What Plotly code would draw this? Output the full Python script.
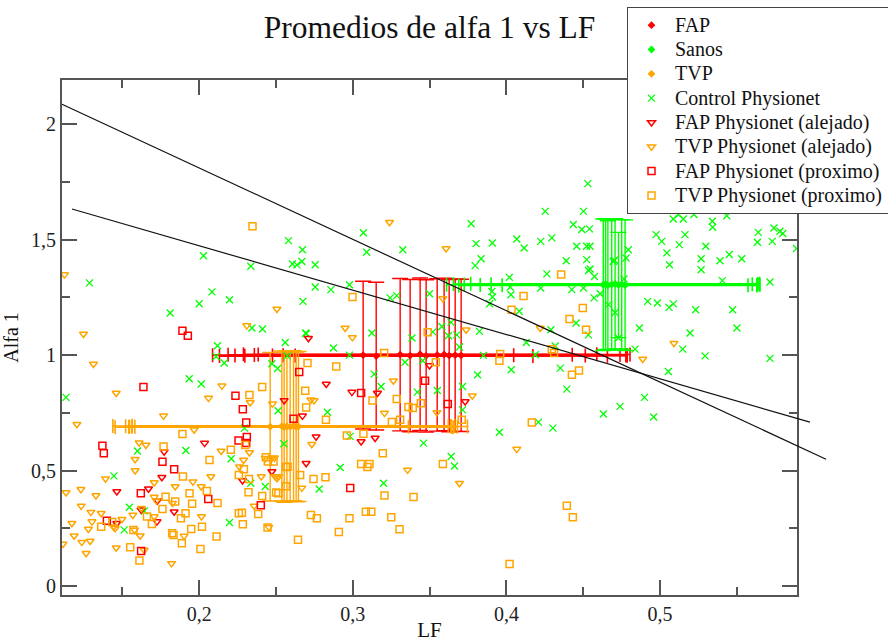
import plotly.graph_objects as go

# ---------------- data ----------------
# group means (several estimates per group) with std errors
fap_lf = [0.3067, 0.3152, 0.3308, 0.3373, 0.3438, 0.3477, 0.3549, 0.3594, 0.3627, 0.3666, 0.3705]
fap_a1 = [1.000, 0.996, 1.002, 0.998, 1.004, 0.997, 1.001, 1.003, 0.998, 1.000, 0.999]
fap_lf_err = [0.098, 0.102, 0.112, 0.114, 0.115, 0.118, 0.119, 0.121, 0.115, 0.112, 0.108]
fap_a1_err = [0.32, 0.32, 0.33, 0.33, 0.33, 0.33, 0.33, 0.33, 0.33, 0.33, 0.33]

sanos_lf = [0.4630, 0.4645, 0.4660, 0.4685, 0.4707, 0.4729, 0.4750, 0.4772]
sanos_a1 = [1.305, 1.308, 1.302, 1.306, 1.309, 1.304, 1.307, 1.303]
sanos_lf_err = [0.102, 0.099, 0.097, 0.096, 0.094, 0.090, 0.085, 0.080]
sanos_a1_err = [0.285, 0.283, 0.280, 0.284, 0.282, 0.228, 0.280, 0.283]

tvp_lf = [0.2462, 0.2538, 0.2553, 0.2571, 0.2592, 0.2614, 0.2631, 0.2646]
tvp_a1 = [0.690, 0.693, 0.688, 0.692, 0.689, 0.694, 0.690, 0.691]
tvp_lf_err = [0.090, 0.110, 0.110, 0.105, 0.105, 0.105, 0.105, 0.110]
tvp_a1_err = [0.322, 0.325, 0.325, 0.325, 0.323, 0.325, 0.324, 0.325]

control_lf = [0.2581, 0.2028, 0.2336, 0.2607, 0.2636, 0.1286, 0.2083, 0.2000, 0.2197, 0.1811,
              0.2343, 0.2412, 0.2560, 0.2119, 0.2110, 0.2163, 0.2473, 0.2510, 0.1935, 0.2573,
              0.1133, 0.2013, 0.2514, 0.1598, 0.1913, 0.2208, 0.1445, 0.1546, 0.1642, 0.1512,
              0.2197, 0.2336, 0.2430, 0.2551, 0.2874, 0.2696, 0.2835, 0.2295, 0.2781,
              0.4529, 0.4252, 0.4501, 0.3770, 0.3069, 0.4435, 0.4490, 0.4540, 0.4067, 0.4115,
              0.4223, 0.4295, 0.3802, 0.3908, 0.4457, 0.4522, 0.4544, 0.2672, 0.3090, 0.3325,
              0.2755, 0.2668, 0.3835, 0.3796, 0.4389, 0.4522, 0.4534, 0.4573, 0.4263, 0.4019,
              0.2755, 0.2857, 0.2978, 0.3243, 0.3286, 0.3499, 0.3905, 0.3909, 0.4024, 0.4029,
              0.4223, 0.4425, 0.4501, 0.4570, 0.3890, 0.4083, 0.4453, 0.4533, 0.2675, 0.2694,
              0.3124, 0.3521, 0.3579, 0.3640, 0.3622, 0.3677, 0.3824, 0.4289, 0.4129, 0.3385,
              0.3694, 0.4317, 0.2978, 0.3850, 0.4187, 0.3340, 0.3455, 0.4031, 0.3812, 0.4350,
              0.4393, 0.3139, 0.3714, 0.3184, 0.3420, 0.3550, 0.3714, 0.4208, 0.4302, 0.2982,
              0.3954, 0.3460, 0.3640, 0.3662, 0.2918, 0.3200,
              0.5086, 0.5151, 0.5119, 0.5220, 0.5340, 0.5342, 0.5434, 0.5639, 0.5633, 0.5741,
              0.5780, 0.5798, 0.4974, 0.5010, 0.5162, 0.5125, 0.5730, 0.5888, 0.5297, 0.5044,
              0.5061, 0.5267, 0.5267, 0.5390, 0.5450, 0.5531, 0.4793, 0.4778, 0.4702, 0.4544,
              0.5715, 0.5405, 0.4610, 0.4664, 0.4707, 0.4919, 0.4982, 0.5058, 0.5086, 0.5231,
              0.5472, 0.4865, 0.5195, 0.5500, 0.5147, 0.5293, 0.5715, 0.4837, 0.4631, 0.4739,
              0.4898, 0.4958, 0.5054, 0.4696, 0.4765, 0.4729]
control_a1 = [1.496, 1.431, 1.385, 1.395, 1.391, 1.313, 1.274, 1.223, 1.240, 1.183,
              1.118, 1.113, 1.055, 1.041, 0.994, 0.966, 0.963, 0.942, 0.898, 0.997,
              0.817, 0.875, 0.759, 0.585, 0.587, 0.551, 0.477, 0.341, 0.325, 0.243,
              0.275, 0.445, 0.431, 0.616, 1.031, 1.093, 0.753, 0.684, 0.420,
              1.743, 1.623, 1.623, 1.569, 1.530, 1.566, 1.544, 1.547, 1.503, 1.464,
              1.493, 1.508, 1.483, 1.486, 1.472, 1.472, 1.472, 1.457, 1.446, 1.457,
              1.392, 1.406, 1.418, 1.388, 1.409, 1.414, 1.367, 1.341, 1.352, 1.337,
              1.295, 1.284, 1.305, 1.248, 1.258, 1.266, 1.276, 1.252, 1.295, 1.262,
              1.291, 1.284, 1.291, 1.248, 1.223, 1.190, 1.139, 1.088, 1.233, 1.096,
              1.096, 1.101, 1.124, 1.142, 1.084, 1.088, 1.103, 1.110, 1.055, 1.074,
              1.035, 1.040, 1.000, 0.999, 1.002, 0.969, 0.976, 0.937, 0.915, 0.944,
              0.853, 0.918, 0.864, 0.864, 0.840, 0.847, 0.763, 0.710, 0.684, 0.648,
              0.666, 0.619, 0.561, 0.520, 0.513, 0.445,
              1.590, 1.590, 1.609, 1.609, 1.580, 1.554, 1.604, 1.532, 1.489, 1.551,
              1.537, 1.527, 1.522, 1.493, 1.522, 1.479, 1.493, 1.462, 1.472, 1.443,
              1.392, 1.418, 1.370, 1.409, 1.436, 1.418, 1.457, 1.421, 1.411, 1.373,
              1.317, 1.323, 1.266, 1.219, 1.185, 1.233, 1.226, 1.207, 1.222, 1.197,
              1.197, 1.118, 1.096, 1.118, 1.026, 0.997, 0.986, 1.026, 0.745, 0.778,
              0.817, 0.732, 0.929, 1.406, 1.330, 1.074]

fap_alej_lf = [0.2553, 0.1772, 0.2035, 0.1757, 0.1464, 0.1670, 0.1729, 0.1837, 0.1622, 0.1725,
               0.1464, 0.2282, 0.2473, 0.2711, 0.2827, 0.2672, 0.2761, 0.2696, 0.3499, 0.3731,
               0.2994, 0.3160, 0.3054, 0.3145]
fap_alej_a1 = [0.804, 0.582, 0.619, 0.471, 0.409, 0.421, 0.370, 0.322, 0.330, 0.279,
               0.272, 0.457, 0.496, 1.073, 0.875, 0.737, 0.647, 0.532, 0.955, 0.799,
               0.840, 0.836, 0.626, 0.641]

tvp_alej_lf = [0.1123, 0.2506, 0.2310, 0.1247, 0.1312, 0.1460, 0.2148, 0.2061, 0.2332, 0.2477,
               0.1204, 0.1768, 0.1967, 0.2327, 0.1609, 0.1653, 0.2143, 0.1583, 0.1583, 0.2262,
               0.2076, 0.1390, 0.1133, 0.1230, 0.1328, 0.1707, 0.1844, 0.1959, 0.2013, 0.1707,
               0.1721, 0.1826, 0.2015, 0.1624, 0.1568, 0.1707, 0.1497, 0.1362, 0.1295, 0.1302,
               0.1232, 0.1171, 0.1442, 0.1453, 0.1579, 0.1279, 0.1186, 0.1290, 0.1236, 0.1113,
               0.1264, 0.1460, 0.1616, 0.1642, 0.1820, 0.1902, 0.2358, 0.2404, 0.2473, 0.2495,
               0.2453, 0.2727, 0.2748, 0.2733, 0.2289, 0.2430, 0.2490, 0.2516, 0.2668, 0.3239,
               0.3607, 0.3586, 0.2950, 0.2997, 0.3737, 0.4220, 0.3264, 0.3778, 0.3206, 0.3547,
               0.4067, 0.3356, 0.3694, 0.5090, 0.4887, 0.2506]
tvp_alej_a1 = [1.349, 1.200, 1.128, 1.092, 0.962, 0.836, 0.867, 0.814, 0.795, 0.789,
               0.701, 0.737, 0.677, 0.578, 0.621, 0.611, 0.585, 0.549, 0.500, 0.517,
               0.474, 0.465, 0.405, 0.419, 0.392, 0.448, 0.431, 0.452, 0.431, 0.385,
               0.370, 0.359, 0.301, 0.337, 0.308, 0.301, 0.289, 0.315, 0.320, 0.279,
               0.347, 0.272, 0.257, 0.250, 0.243, 0.247, 0.218, 0.195, 0.190, 0.182,
               0.142, 0.166, 0.218, 0.156, 0.098, 0.217, 0.347, 0.474, 0.555, 0.474,
               0.255, 0.807, 0.804, 0.614, 0.546, 0.553, 0.556, 0.474, 0.425, 1.576,
               1.462, 1.245, 1.118, 1.077, 1.110, 1.118, 0.889, 0.824, 0.749, 0.752,
               0.593, 0.503, 0.445, 1.052, 0.983, 0.467]

fap_prox_lf = [0.1891, 0.1926, 0.1637, 0.2236, 0.2284, 0.2306, 0.2256, 0.2310, 0.1370, 0.1379,
               0.1761, 0.1837, 0.1620, 0.2059, 0.1399, 0.1622, 0.2401, 0.2614, 0.2651, 0.3470,
               0.3054, 0.3618, 0.2983, 0.2306]
fap_prox_a1 = [1.106, 1.084, 0.862, 0.824, 0.766, 0.708, 0.630, 0.645, 0.608, 0.575,
               0.538, 0.506, 0.402, 0.377, 0.283, 0.152, 0.350, 0.724, 0.927, 0.889,
               0.836, 0.788, 0.424, 0.619]

tvp_prox_lf = [0.2347, 0.2410, 0.2327, 0.1891, 0.2299, 0.1768, 0.2206, 0.2067, 0.2291, 0.2258,
               0.2324, 0.1894, 0.2050, 0.2119, 0.1937, 0.1954, 0.1781, 0.1844, 0.1761, 0.1911,
               0.1660, 0.1692, 0.1362, 0.1572, 0.1551, 0.1611, 0.1824, 0.1833, 0.1887, 0.1948,
               0.2018, 0.2113, 0.2008, 0.1881, 0.2258, 0.2278, 0.2284, 0.2384, 0.2410, 0.2321,
               0.2434, 0.2445, 0.2643, 0.2501, 0.2564, 0.2705, 0.2892, 0.2690, 0.2696, 0.2825,
               0.2575, 0.2657, 0.2744, 0.2822, 0.2564, 0.2516, 0.2727, 0.2766, 0.4356, 0.2998,
               0.4111, 0.4033, 0.4410, 0.4497, 0.4518, 0.3487, 0.4295, 0.4310, 0.3204, 0.3959,
               0.3954, 0.3540, 0.4426, 0.4472, 0.3128, 0.3286, 0.3443, 0.3362, 0.3390, 0.3254,
               0.3308, 0.3709, 0.4165, 0.2961, 0.3069, 0.3195, 0.3586, 0.3054, 0.3108, 0.3095,
               0.3206, 0.3395, 0.4393, 0.4432, 0.3085, 0.3120, 0.2978, 0.3250, 0.3304, 0.2909,
               0.4020, 0.2447, 0.2484, 0.1434]
tvp_prox_a1 = [1.558, 0.862, 0.827, 0.658, 0.611, 0.604, 0.590, 0.546, 0.506, 0.481,
               0.464, 0.474, 0.412, 0.360, 0.402, 0.356, 0.387, 0.366, 0.334, 0.315,
               0.301, 0.269, 0.257, 0.243, 0.168, 0.110, 0.229, 0.221, 0.185, 0.247,
               0.257, 0.214, 0.160, 0.294, 0.315, 0.317, 0.268, 0.312, 0.390, 0.406,
               0.558, 0.253, 0.200, 0.405, 0.515, 0.966, 0.951, 0.846, 0.773, 0.720,
               0.517, 0.481, 0.464, 0.471, 0.432, 0.402, 0.308, 0.294, 1.349, 1.252,
               1.256, 1.197, 1.157, 1.204, 1.110, 1.099, 1.026, 1.009, 1.009, 1.005,
               0.976, 0.969, 0.915, 0.934, 0.804, 0.810, 0.792, 0.775, 0.771, 0.710,
               0.720, 0.720, 0.708, 0.652, 0.659, 0.575, 0.528, 0.528, 0.528, 0.515,
               0.392, 0.385, 0.348, 0.298, 0.322, 0.322, 0.294, 0.298, 0.246, 0.234,
               0.095, 0.539, 0.539, 0.277]

# two regression lines (start / end points)
reg_lf_start = [0.1107, 0.1172]
reg_a1_start = [2.087, 1.633]
reg_lf_end = [0.608, 0.5975]
reg_a1_end = [0.549, 0.710]

x_range = [0.1107, 0.5891]
y_range = [-0.039, 2.192]

RED = "#ff0000"
GREEN = "#00ff00"
ORANGE = "#ffa500"
SERIF = "Liberation Serif, Times New Roman, serif"


def legend_name(s):
    # legend rows are laid out with a smaller base font, text shown at 20px
    return '<span style="font-size:20px">' + s + '</span>'


fig = go.Figure()


def mean_trace(name, x, y, ex, ey, color):
    return go.Scatter(
        x=x, y=y, name=legend_name(name), mode="markers",
        marker=dict(symbol="diamond", size=6, color=color),
        error_x=dict(type="data", array=ex, color=color, thickness=1.6, width=7),
        error_y=dict(type="data", array=ey, color=color, thickness=1.4, width=8),
    )


fig.add_trace(mean_trace("FAP", fap_lf, fap_a1, fap_lf_err, fap_a1_err, RED))
fig.add_trace(mean_trace("Sanos", sanos_lf, sanos_a1, sanos_lf_err, sanos_a1_err, GREEN))
fig.add_trace(mean_trace("TVP", tvp_lf, tvp_a1, tvp_lf_err, tvp_a1_err, ORANGE))

fig.add_trace(go.Scatter(
    x=control_lf, y=control_a1, name=legend_name("Control Physionet"), mode="markers",
    marker=dict(symbol="x-thin", size=7, color=GREEN, line=dict(color=GREEN, width=1.3))))
fig.add_trace(go.Scatter(
    x=fap_alej_lf, y=fap_alej_a1, name=legend_name("FAP Physionet (alejado)"), mode="markers",
    marker=dict(symbol="triangle-down-open", size=7, color=RED, line=dict(width=1.5))))
fig.add_trace(go.Scatter(
    x=tvp_alej_lf, y=tvp_alej_a1, name=legend_name("TVP Physionet (alejado)"), mode="markers",
    marker=dict(symbol="triangle-down-open", size=7, color=ORANGE, line=dict(width=1.5))))
fig.add_trace(go.Scatter(
    x=fap_prox_lf, y=fap_prox_a1, name=legend_name("FAP Physionet (proximo)"), mode="markers",
    marker=dict(symbol="square-open", size=7, color=RED, line=dict(width=1.5))))
fig.add_trace(go.Scatter(
    x=tvp_prox_lf, y=tvp_prox_a1, name=legend_name("TVP Physionet (proximo)"), mode="markers",
    marker=dict(symbol="square-open", size=7, color=ORANGE, line=dict(width=1.5))))


def to_dom(v, r):
    return (v - r[0]) / (r[1] - r[0])


for i in range(len(reg_lf_start)):
    fig.add_shape(
        type="line", xref="x domain", yref="y domain",
        x0=to_dom(reg_lf_start[i], x_range), y0=to_dom(reg_a1_start[i], y_range),
        x1=to_dom(reg_lf_end[i], x_range), y1=to_dom(reg_a1_end[i], y_range),
        line=dict(color="#111111", width=1.2), layer="above")

axis_common = dict(
    showline=True, linecolor="#555555", linewidth=2, mirror="allticks",
    ticks="inside", ticklen=15, tickwidth=2, tickcolor="#555555",
    showgrid=False, zeroline=False,
    tickfont=dict(family=SERIF, size=20, color="#222222"),
)

fig.update_xaxes(
    range=x_range, dtick=0.1, tick0=0,
    minor=dict(ticks="inside", ticklen=8, tickwidth=2, tickcolor="#555555", dtick=0.05, tick0=0, showgrid=False),
    title=dict(text="LF", font=dict(family=SERIF, size=21, color="#111111"), standoff=8),
    **axis_common)
fig.update_yaxes(
    range=y_range, dtick=0.5, tick0=0,
    minor=dict(ticks="inside", ticklen=8, tickwidth=2, tickcolor="#555555", dtick=0.25, tick0=0, showgrid=False),
    title=dict(text="Alfa 1", font=dict(family=SERIF, size=20, color="#111111"), standoff=8),
    **axis_common)

fig.update_layout(
    width=888, height=642,
    margin=dict(l=62, r=91, t=80, b=47, autoexpand=False),
    paper_bgcolor="white", plot_bgcolor="white",
    separators=", ",
    title=dict(text="Promedios de alfa 1 vs LF", x=0.5, xref="paper", xanchor="center",
               y=0.958, yref="container", yanchor="middle",
               font=dict(family=SERIF, size=31.5, color="#111111")),
    legend=dict(x=0.7687, y=1.1417, xanchor="left", yanchor="top",
                bgcolor="white", bordercolor="#444444", borderwidth=1,
                font=dict(family=SERIF, size=16.4, color="#111111"),
                itemwidth=37, tracegroupgap=0),
    showlegend=True,
)

fig.write_html("out.html")
